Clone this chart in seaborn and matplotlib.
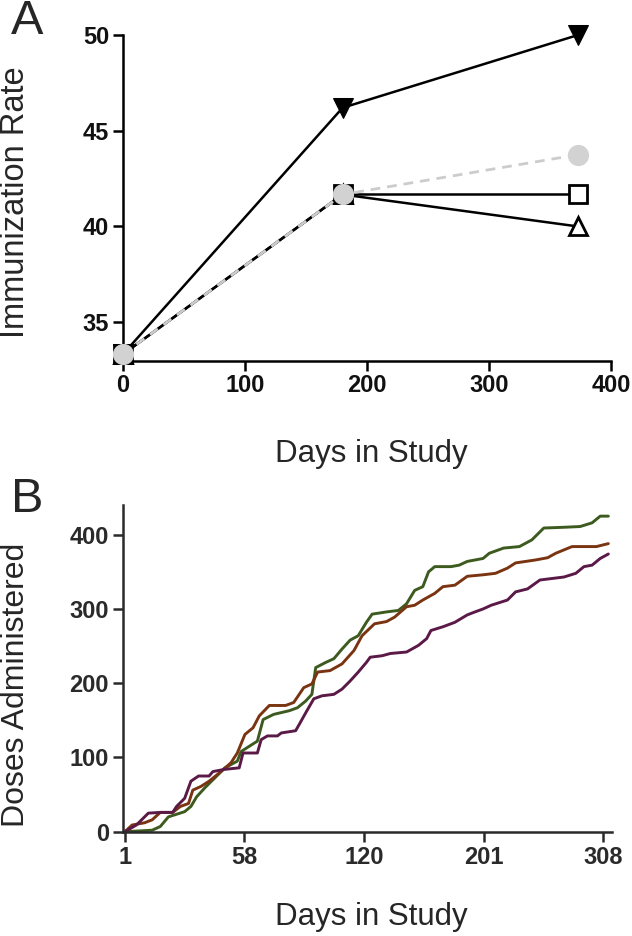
import matplotlib
matplotlib.use("Agg")
import matplotlib.pyplot as plt
import seaborn as sns
import pandas as pd

# ---------------- Panel A data ----------------
days_a = [0, 180, 373]
rate_down_tri = [33.33, 46.2, 50.0]
rate_square = [33.33, 41.67, 41.67]
rate_up_tri = [33.33, 41.67, 40.0]
rate_circle = [33.33, 41.67, 43.75]
xticks_a = [0, 100, 200, 300, 400]
yticks_a = [35, 40, 45, 50]

# ---------------- Panel B data ----------------
green_x = [0, 5.7, 7.4, 9.1, 12.5, 13.8, 15.0, 16.7, 19.2, 20.9, 23.5, 24.3, 26.0, 27.7, 28.9,
           31.1, 34.4, 36.1, 37.8, 39.1, 39.9, 42.0, 43.7, 45.4, 47.1, 48.8, 50.5, 51.7, 54.7,
           57.2, 58.9, 60.6, 62.3, 63.5, 64.8, 68.2, 69.9, 71.6, 74.9, 76.2, 79.2, 82.5, 85.1,
           87.6, 91.8, 95.2, 97.7, 99.4, 101.1]
green_y = [0, 2, 7, 20, 27, 34, 47, 59, 75, 86, 95, 108, 115, 122, 151,
           158, 163, 167, 176, 185, 221, 228, 233, 246, 258, 264, 282, 293, 296,
           298, 307, 325, 330, 350, 357, 357, 359, 364, 368, 375, 382, 384, 393,
           409, 410, 411, 416, 425, 425]
brown_x = [0, 1.5, 4.1, 5.7, 7.4, 10.0, 11.6, 13.3, 14.2, 15.9, 17.6, 20.1, 22.2, 23.5, 25.1,
           26.8, 28.1, 30.2, 33.6, 35.3, 37.4, 39.1, 40.3, 42.9, 45.4, 47.9, 49.6, 52.2, 54.7,
           56.4, 58.9, 60.6, 62.3, 64.8, 66.5, 69.0, 71.6, 74.9, 77.5, 80.0, 81.7, 85.9, 88.4,
           90.1, 93.5, 98.6, 101.1]
brown_y = [0, 9, 12, 16, 26, 26, 34, 38, 56, 61, 68, 81, 93, 106, 131,
           140, 156, 170, 170, 174, 194, 199, 215, 217, 226, 244, 264, 280, 283,
           289, 303, 305, 312, 321, 330, 332, 344, 346, 348, 355, 362, 366, 369,
           375, 384, 384, 388]
purple_x = [0, 2.4, 4.9, 7.4, 10.0, 10.8, 12.5, 13.8, 15.4, 17.6, 18.4, 20.9, 23.9, 24.7, 27.7,
            28.5, 29.8, 31.9, 32.7, 35.7, 36.5, 37.8, 39.5, 41.2, 43.7, 45.4, 47.1, 48.8, 50.5,
            51.3, 53.8, 55.5, 58.9, 61.4, 63.1, 64.0, 66.5, 69.0, 71.6, 73.2, 74.9, 76.6, 80.0,
            81.7, 84.2, 86.8, 89.3, 91.8, 94.3, 96.0, 97.7, 99.4, 101.1]
purple_y = [0, 9, 25, 26, 26, 34, 45, 68, 75, 75, 81, 84, 86, 106, 106,
            124, 129, 129, 133, 136, 145, 160, 179, 183, 185, 192, 203, 215, 228,
            235, 237, 240, 242, 251, 260, 271, 276, 282, 292, 296, 300, 305, 312,
            323, 327, 339, 341, 343, 348, 357, 359, 368, 374]
xticks_b_pos = [0, 25, 50, 75, 100]
xticks_b_labels = ["1", "58", "120", "201", "308"]
yticks_b = [0, 100, 200, 300, 400]

sns.set_style("ticks")
plt.rcParams["font.family"] = ["Liberation Sans", "DejaVu Sans"]

W, H = 632, 936
fig = plt.figure(figsize=(W / 100, H / 100), dpi=100)

def frac_axes(left, top, right, bottom):
    return fig.add_axes([left / W, 1 - bottom / H, (right - left) / W, (bottom - top) / H])

# ---------------- Panel A ----------------
axA = frac_axes(123, 35, 611, 360.5)
black_lw = 1.8
sns.lineplot(x=days_a, y=rate_down_tri, ax=axA, color="black", lw=black_lw, marker="v",
             markersize=15, markerfacecolor="black", markeredgecolor="black", clip_on=False, zorder=3)
sns.lineplot(x=days_a, y=rate_up_tri, ax=axA, color="black", lw=black_lw, marker="^",
             markersize=13.5, markerfacecolor="white", markeredgecolor="black", markeredgewidth=2,
             clip_on=False, zorder=3)
sns.lineplot(x=days_a, y=rate_square, ax=axA, color="black", lw=black_lw, marker="s",
             markersize=13, markerfacecolor="white", markeredgecolor="black", markeredgewidth=2,
             clip_on=False, zorder=4)
sns.lineplot(x=days_a, y=rate_circle, ax=axA, color="#cccccc", lw=2.0, linestyle=(0, (3.5, 2.5)),
             marker="o", markersize=14.5, markerfacecolor="#d2d2d2", markeredgecolor="#d2d2d2",
             clip_on=False, zorder=5)
axA.set_xlim(0, 400)
axA.set_ylim(33.0, 50)
axA.set_xticks(xticks_a)
axA.set_yticks(yticks_a)
axA.set_xlabel("")
axA.set_ylabel("")

# ---------------- Panel B ----------------
axB = frac_axes(123, 505, 611.7, 831.7)
df_b = pd.DataFrame({
    "idx": green_x + brown_x + purple_x,
    "doses": green_y + brown_y + purple_y,
    "group": ["green"] * len(green_x) + ["brown"] * len(brown_x) + ["purple"] * len(purple_x),
})
palette = {"green": "#3d5a1f", "brown": "#7a3412", "purple": "#5a1946"}
sns.lineplot(data=df_b, x="idx", y="doses", hue="group", palette=palette, ax=axB,
             lw=2.1, legend=False, estimator=None, sort=False)
axB.set_xlim(-0.4, 101.8)
axB.set_ylim(0, 440)
axB.set_xticks(xticks_b_pos)
axB.set_xticklabels(xticks_b_labels)
axB.set_yticks(yticks_b)
axB.set_xlabel("")
axB.set_ylabel("")

for ax, col in [(axA, "black"), (axB, "#2a2a2a")]:
    sns.despine(ax=ax)
    for s in ["left", "bottom"]:
        ax.spines[s].set_linewidth(1.8)
        ax.spines[s].set_color(col)
    ax.tick_params(axis="both", length=7, width=1.8, color=col, labelsize=17,
                   labelcolor="#111111" if col == "black" else "#2a2a2a", pad=3)
    for lab in ax.get_xticklabels() + ax.get_yticklabels():
        lab.set_fontweight("bold")

# ---------------- texts ----------------
def ftext(x, y, s, **kw):
    fig.text(x / W, 1 - y / H, s, **kw)

ftext(16, 202, "Immunization Rate", rotation=90, ha="center", va="center", fontsize=23.5)
ftext(371, 454, "Days in Study", ha="center", va="center", fontsize=22.5)
ftext(16, 685, "Doses Administered", rotation=90, ha="center", va="center", fontsize=23)
ftext(371, 917, "Days in Study", ha="center", va="center", fontsize=22.5)
ftext(27, 21, "A", ha="center", va="center", fontsize=35)
ftext(27, 500, "B", ha="center", va="center", fontsize=35)

fig.savefig("out.png", dpi=100)
